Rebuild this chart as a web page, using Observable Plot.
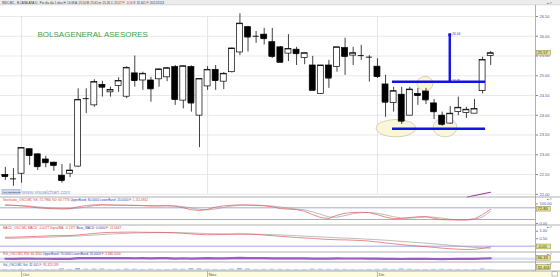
<!DOCTYPE html>
<html><head><meta charset="utf-8">
<script src="https://cdn.jsdelivr.net/npm/d3@7"></script>
<script src="https://cdn.jsdelivr.net/npm/@observablehq/plot@0.6"></script>
<style>
html,body{margin:0;padding:0;background:#fff;}
#wrap{position:relative;width:560px;height:277px;overflow:hidden;background:#fff;font-family:"Liberation Sans",Arial,sans-serif;}
#wrap svg{position:absolute;left:0;}
</style></head><body><div id="wrap"></div>
<script>
// ---------- data ----------
const candleOpen  = [22.49,22.39,22.52,23.14,23.01,22.88,22.80,22.47,22.52,22.70,24.42,24.25,24.77,24.58,24.74,24.47,25.06,24.88,24.88,24.91,24.96,25.22,24.37,25.22,23.99,24.73,25.15,24.85,25.09,25.59,26.23,26.00,26.04,25.85,25.72,25.56,25.66,25.45,25.26,24.54,25.26,25.22,25.70,25.51,25.51,25.47,25.23,24.78,24.31,24.52,23.99,24.54,24.60,24.30,23.99,23.79,24.08,24.06,24.04,24.61,25.50];
const candleHigh  = [22.68,22.65,23.18,23.15,23.03,22.96,22.81,22.75,22.77,24.67,24.67,24.90,24.86,24.71,24.95,25.23,25.50,25.09,24.96,25.17,25.21,25.26,25.25,25.25,24.93,25.23,25.26,25.08,25.70,26.57,26.25,26.12,26.20,26.20,25.74,26.04,25.72,25.57,25.49,25.26,25.39,25.72,25.95,25.72,25.77,25.51,25.43,25.01,24.71,24.71,24.71,24.68,24.68,24.40,24.08,24.22,24.46,24.20,24.40,25.47,25.61];
const candleLow   = [22.35,22.20,22.28,22.73,22.60,22.67,22.58,22.28,22.42,22.68,24.04,24.20,24.46,24.46,24.58,24.42,24.71,24.63,24.33,24.71,24.85,24.25,24.16,24.08,23.18,24.63,24.63,24.65,25.07,25.51,25.60,25.82,25.78,25.44,25.34,25.36,25.26,25.28,24.63,24.54,24.68,25.09,25.01,25.26,25.39,24.84,24.93,23.95,24.08,23.77,23.99,24.25,24.27,23.89,23.72,23.77,23.99,23.92,24.04,24.54,25.26];
const candleClose = [22.45,22.39,23.17,22.98,22.70,22.80,22.73,22.35,22.60,24.39,24.42,24.84,24.71,24.64,24.87,25.20,24.88,25.05,24.67,25.16,25.19,24.40,25.24,24.31,24.92,25.15,24.88,25.05,25.69,26.32,25.98,26.00,25.94,25.49,25.34,25.68,25.56,25.57,24.63,25.26,24.94,25.72,25.49,25.57,25.51,25.47,24.98,24.33,24.61,23.85,24.65,24.50,24.39,24.09,23.77,24.04,24.19,24.14,24.16,25.40,25.57];

const priceTicks  = [22,22.5,23,23.5,24,24.5,25,25.5,26,26.5];
const monthIdx    = [2,25,46];
const monthLabels = ["Oct","Nov","Dic"];

// annotations (index units / price units)
const levelPrice   = [24.85,23.66];
const levelFromIdx = [47.86,47.86];
const levelToIdx   = [59.36,59.36];
const targetIdx    = [54.94];
const targetFrom   = [24.85];
const targetTo     = [26.04];
const targetLabels = ["26.04","24.85"];
const ellipseIdx       = [48.35,54.41,51.94];
const ellipsePrice     = [23.66,23.68,24.79];
const ellipseHalfIdx   = [2.47,1.48,0.99];
const ellipseHalfPrice = [0.22,0.24,0.18];
const trendIdx   = [57.13,59.97];
const trendPrice = [21.93,22.05];

// indicators
const stochK = [95,93,90,86,80,77,75,74,76,85,92,95,96,94,93,93,92,91,89,90,91,88,80,70,66,72,84,90,93,95,94,92,90,85,76,73,71,62,45,30,25,42,52,56,57,55,45,32,24,26,30,34,35,26,19,18,18,18,24,45,73];
const stochD = [92,92,91,89,85,81,78,75,75,78,84,91,94,95,94,93,93,92,91,90,90,90,86,79,72,69,74,82,89,93,94,94,92,89,84,78,73,69,59,46,33,32,40,50,55,56,52,44,34,27,27,30,33,32,27,21,18,18,20,33,62];
const macdLine = [0.60,0.60,0.62,0.64,0.66,0.68,0.70,0.70,0.71,0.75,0.80,0.85,0.90,0.92,0.93,0.94,0.94,0.93,0.92,0.92,0.91,0.89,0.86,0.82,0.78,0.76,0.77,0.78,0.80,0.82,0.80,0.78,0.74,0.70,0.66,0.62,0.58,0.55,0.52,0.48,0.45,0.43,0.42,0.40,0.38,0.34,0.28,0.22,0.16,0.10,0.05,0.01,-0.03,-0.08,-0.13,-0.17,-0.20,-0.22,-0.21,-0.14,-0.05];
const macdSignal = [0.52,0.53,0.54,0.56,0.58,0.60,0.62,0.64,0.66,0.68,0.71,0.74,0.78,0.81,0.84,0.86,0.88,0.89,0.90,0.90,0.90,0.90,0.89,0.88,0.86,0.84,0.83,0.82,0.81,0.81,0.81,0.80,0.79,0.77,0.75,0.73,0.70,0.67,0.65,0.62,0.59,0.56,0.54,0.52,0.49,0.46,0.43,0.40,0.36,0.32,0.28,0.24,0.20,0.16,0.11,0.06,0.01,-0.04,-0.08,-0.11,-0.14];
const rsiValues = [48,46,55,52,48,49,47,42,45,68,68,72,70,68,70,74,66,69,62,68,69,56,66,54,64,67,62,65,72,79,72,72,70,62,59,64,62,62,50,58,53,61,57,58,57,56,52,44,48,39,48,46,44,40,36,40,42,41,42,58,66];
const volValues = [420,380,620,450,520,380,340,1100,560,1450,780,900,1000,520,610,880,760,540,700,520,480,820,760,1250,1100,640,560,480,820,1300,980,520,610,700,640,560,480,450,900,760,620,700,560,420,380,520,640,900,580,1000,760,480,450,620,700,600,480,420,360,980,320];

// ---------- build ----------
const candles = candleOpen.map((o,i)=>({i, open:o, high:candleHigh[i], low:candleLow[i], close:candleClose[i]}));
const series = (arr)=>arr.map((v,i)=>({i, v}));
const W = 560, MR = 25, xDomain = [-0.6, 65.54];
const FONT = "Liberation Sans, Arial, sans-serif";
const BLUE = "#1212e8", AXC = "#4a55a0";
const wrap = document.getElementById("wrap");

function mk(top, height, mt, mb, yOpts, marks, bg) {
  const p = Plot.plot({
    width: W, height, marginLeft: 0, marginRight: MR, marginTop: mt, marginBottom: mb,
    x: {domain: xDomain, axis: null},
    y: yOpts,
    style: {background: bg || "transparent", overflow: "visible", fontFamily: FONT, fontSize: "4px"},
    marks
  });
  p.style.top = top + "px";
  wrap.appendChild(p);
  return p;
}

function ellipseMark(index, scales) {
  const ns = "http://www.w3.org/2000/svg";
  const g = document.createElementNS(ns, "g");
  if (!scales || typeof scales.x !== "function") return g;
  ellipseIdx.forEach((ci, k) => {
    const cx = scales.x(ci), cy = scales.y(ellipsePrice[k]);
    const rx = Math.abs(scales.x(ci + ellipseHalfIdx[k]) - cx);
    const ry = Math.abs(scales.y(ellipsePrice[k] + ellipseHalfPrice[k]) - cy);
    const e = document.createElementNS(ns, "ellipse");
    e.setAttribute("cx", cx); e.setAttribute("cy", cy);
    e.setAttribute("rx", rx); e.setAttribute("ry", ry);
    e.setAttribute("fill", "#fbf6d8"); e.setAttribute("stroke", "#bdb593"); e.setAttribute("stroke-width", 0.6);
    g.appendChild(e);
  });
  return g;
}

const yAxis = (ticks, fmt) => Plot.axisY(ticks, {anchor: "right", tickSize: 2, tickPadding: 2, tickFormat: fmt, fontSize: 4, fill: AXC, stroke: "#888", label: null});

// main panel
const mainPlot = mk(5, 192, 11, 3.25, {domain: [22, 26.5]}, [
  Plot.ruleY(priceTicks, {stroke: "#e3e3e3", strokeWidth: 0.8}),
  Plot.ruleX(monthIdx, {stroke: "#dedede", strokeWidth: 0.8}),
  ellipseMark,
  Plot.ruleX(candles, {x: "i", y1: "low", y2: "high", stroke: "#111", strokeWidth: 0.8}),
  Plot.rect(candles, {x1: d => d.i - 0.37, x2: d => d.i + 0.37, y1: "open", y2: "close",
    fill: d => d.close >= d.open ? "#fff" : "#000", stroke: "#000", strokeWidth: 0.7}),
  Plot.ruleY(candles, {y: "close", x1: d => d.i - 0.37, x2: d => d.i + 0.37, stroke: "#000", strokeWidth: 0.9}),
  Plot.ruleY(levelPrice, {y: d => d, x1: (d,i) => levelFromIdx[i], x2: (d,i) => levelToIdx[i], stroke: BLUE, strokeWidth: 2.6}),
  Plot.ruleX(targetIdx, {x: d => d, y1: (d,i) => targetFrom[i], y2: (d,i) => targetTo[i], stroke: BLUE, strokeWidth: 2.4}),
  Plot.dot(targetIdx, {x: d => d, y: (d,i) => targetTo[i], symbol: "square", r: 1.6, fill: BLUE}),
  Plot.text(targetLabels, {x: () => targetIdx[0], y: (d,i) => i === 0 ? targetTo[0] : targetFrom[0], text: d => d,
    dx: 2.5, dy: -1, textAnchor: "start", fontSize: 3.2, fill: "#3030d0"}),
  Plot.line(trendIdx.map((x,i)=>({x, y: trendPrice[i]})), {x: "x", y: "y", stroke: "#9a3a98", strokeWidth: 1.2}),
  yAxis(priceTicks, d => d.toFixed(2))
]);

// stochastic
const stochPlot = mk(197, 28, 6.4, 2.1, {domain: [0, 100]}, [
  Plot.ruleY([20, 80], {stroke: "#9090e0", strokeWidth: 0.8}),
  Plot.line(series(stochD), {x: "i", y: "v", stroke: "#a09898", strokeWidth: 0.7, strokeDasharray: "0.8,0.8"}),
  Plot.line(series(stochK), {x: "i", y: "v", stroke: "#e05858", strokeWidth: 0.7}),
  yAxis([0, 100], d => d.toFixed(2))
]);

// MACD
const macdPlot = mk(225, 27, 5.7, 6.3, {domain: [0, 1]}, [
  Plot.ruleY([0], {stroke: "#9090e0", strokeWidth: 0.8}),
  Plot.line(series(macdSignal), {x: "i", y: "v", stroke: "#a09898", strokeWidth: 0.7, strokeDasharray: "0.8,0.8"}),
  Plot.line(series(macdLine), {x: "i", y: "v", stroke: "#e05858", strokeWidth: 0.7}),
  yAxis([0.5, 1], d => d.toFixed(2))
]);

// RSI
const rsiPlot = mk(252, 10, 4.8, 2.4, {domain: [0, 100], axis: null}, [
  Plot.ruleY([30, 70], {stroke: "#b0b8ee", strokeWidth: 0.6}),
  Plot.line(series(rsiValues), {x: "i", y: "v", stroke: "#9c5cc4", strokeWidth: 2.2})
]);

// Volume
const volPlot = mk(262, 9, 4.5, 1.5, {domain: [0, 3000], axis: null}, [
  Plot.rectY(series(volValues), {x1: d => d.i - 0.3, x2: d => d.i + 0.3, y: "v", fill: "#9cacd8"}),
  Plot.ruleY([0], {stroke: "#b4c0e6", strokeWidth: 0.8})
]);

// x axis strip
mk(271, 6, 0, 0, {axis: null}, [
  Plot.ruleX(monthIdx, {stroke: "#888", strokeWidth: 0.6}),
  Plot.text(monthIdx, {x: d => d, text: (d,i) => monthLabels[i], frameAnchor: "middle", dx: 1.2, dy: 0.6, textAnchor: "start", fontSize: 4.2, fill: "#555"})
], "#fdfcde");

// ---------- overlay decorations ----------
const ov = d3.select(wrap).append("svg").attr("width", 560).attr("height", 277).style("top", "0px")
  .style("font-family", FONT).style("pointer-events", "none");

ov.append("rect").attr("x", 0).attr("y", 0).attr("width", 560).attr("height", 4.8).attr("fill", "#ececec");
ov.append("line").attr("x1", 0).attr("x2", 560).attr("y1", 4.8).attr("y2", 4.8).attr("stroke", "#c4c4c4").attr("stroke-width", 0.6);
const ht = ov.append("text").attr("x", 2).attr("y", 3.5).attr("font-size", 2.9).attr("fill", "#333");
ht.append("tspan").text("INDC.MC - B.CATALANA D - Por día día 1 días  H: 14:08  A: 25.50  M: 25.61  m: 25.26  C: 25.57  ");
ht.append("tspan").attr("fill", "#d02020").text("P: -0.16");
ht.append("tspan").attr("fill", "#2030b0").text("  V: 32.401  F: 20/12/2013");

// separators and right column line
[197, 225, 252, 262, 271].forEach(y => ov.append("line").attr("x1", 0).attr("x2", 560).attr("y1", y).attr("y2", y).attr("stroke", "#9a9a9a").attr("stroke-width", 0.8));
ov.append("line").attr("x1", 535.5).attr("x2", 535.5).attr("y1", 4.8).attr("y2", 271).attr("stroke", "#9a9a9a").attr("stroke-width", 0.8);

// corner icons
[3.6, 200, 227.8, 254.6, 264.6].forEach(y => ov.append("text").attr("x", 547).attr("y", y).attr("font-size", 3).attr("fill", "#555").text("▴▫×"));

// title
ov.append("text").attr("x", 37.5).attr("y", 37).attr("font-size", 8).attr("fill", "#45a04a").text("BOLSAGENERAL ASESORES");

// button + watermark
ov.append("rect").attr("x", 2).attr("y", 189.6).attr("width", 18).attr("height", 4.4).attr("fill", "#cbd7ee").attr("stroke", "#8395c0").attr("stroke-width", 0.5);
ov.append("text").attr("x", 3).attr("y", 192.8).attr("font-size", 2.5).attr("fill", "#334").text("Ver Indicadores");
ov.append("text").attr("x", 22).attr("y", 194.2).attr("font-size", 5.2).attr("fill", "#8ea0c8").text("www.visualchart.com");

// panel headers
function header(y, parts) {
  const t = ov.append("text").attr("x", 3).attr("y", y).attr("font-size", 3.1);
  parts.forEach(([s, c]) => t.append("tspan").attr("fill", c).text(s));
}
const RED = "#d84040", HB = "#3040c0";
header(200.8, [["Stochastic_OSCI.MC %K: 72.7966  %D: 63.7776  ", RED], ["UpperBand: 80.0000  LowerBand: 20.0000  ", HB], ["F: 1.111.0942", RED]]);
header(228.6, [["MACD_OSCI.MC MACD: -0.0477  SignalMA: -0.1377  ", RED], ["Base_MACD: 0.0000  ", HB], ["F: 15.5647", RED]]);
header(255.4, [["RSI_OSCI.MC RSI: 66.3260  ", RED], ["UpperBand: 70.0000  LowerBand: 30.0000  ", HB], ["F: 3.866.0000", RED]]);
header(265.8, [["Vol_OSCI.MC Vol: 32.401  ", HB], ["F: 93.323.539", RED]]);

// highlighted last values on right axis
function badge(plot, top, value, text) {
  const y = top + plot.scale("y").apply(value);
  ov.append("rect").attr("x", 536.5).attr("y", y - 2.4).attr("width", 14).attr("height", 4.8)
    .attr("fill", "#e4e48a").attr("stroke", "#8a8a4a").attr("stroke-width", 0.5);
  ov.append("text").attr("x", 537.6).attr("y", y + 1.4).attr("font-size", 4).attr("fill", "#333").text(text);
}
badge(mainPlot, 5, candleClose[candleClose.length - 1], candleClose[candleClose.length - 1].toFixed(2));
badge(stochPlot, 197, stochK[stochK.length - 1], "72.80");
badge(macdPlot, 225, macdLine[macdLine.length - 1], macdLine[macdLine.length - 1].toFixed(2));
badge(rsiPlot, 252, rsiValues[rsiValues.length - 1], "66.33");
badge(volPlot, 262, 2400, "32.401");
ov.append("rect").attr("x", 552).attr("y", 271.8).attr("width", 5.5).attr("height", 4.2).attr("fill", "#fff").attr("stroke", "#888").attr("stroke-width", 0.5);
</script></body></html>
